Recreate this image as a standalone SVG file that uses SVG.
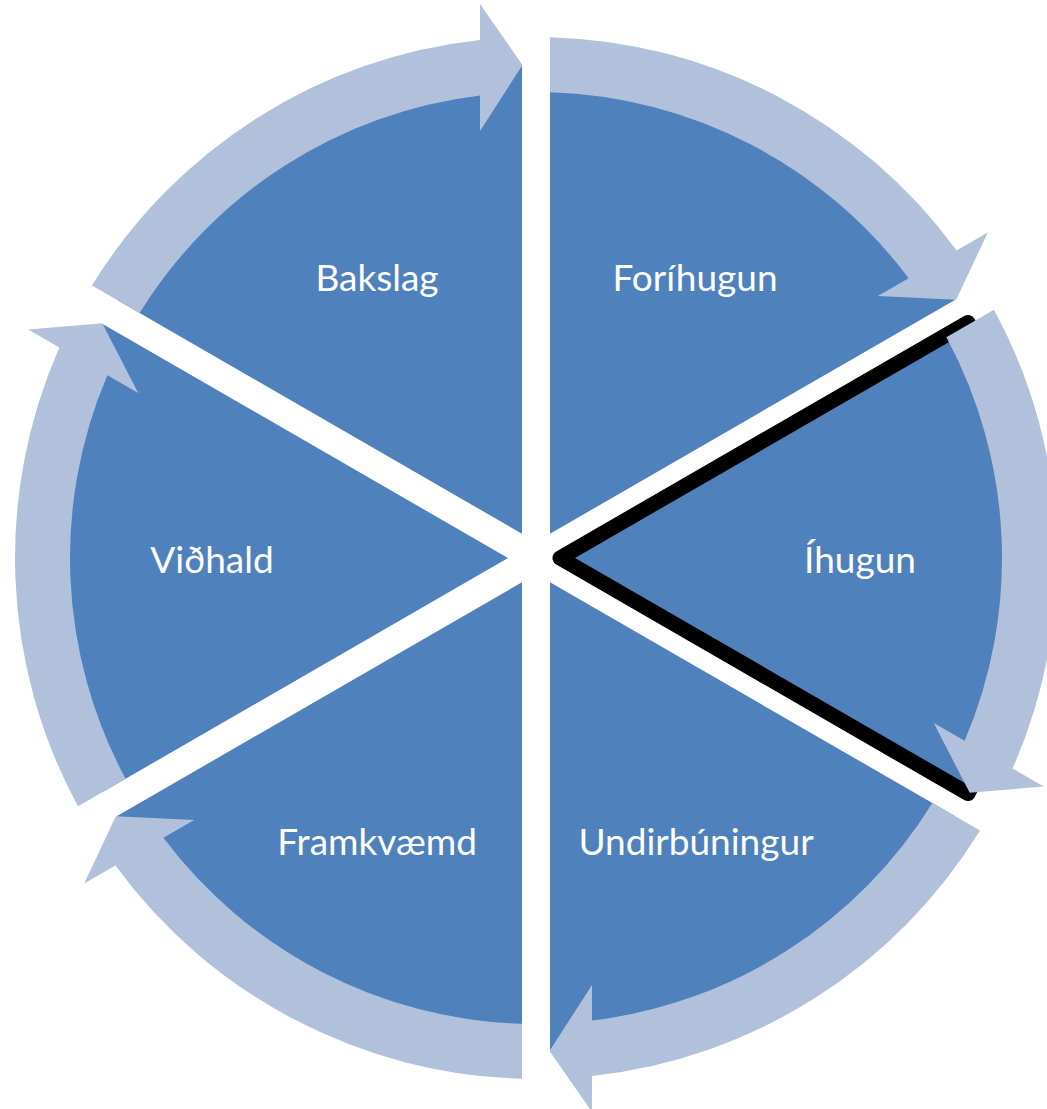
<svg xmlns="http://www.w3.org/2000/svg" width="1047" height="1109" viewBox="0 0 1047 1109">
  <style>
    .sector { fill: #4F81BD; }
    .hl { stroke: #000000; stroke-width: 15; stroke-linejoin: round; }
    .arrow { fill: #B2C1DB; }
    .label { fill: #FFFFFF; font-family: Lato, "Open Sans", "Liberation Sans", sans-serif; font-size: 37px; text-anchor: middle; }
  </style>
  <defs>
    <path id="sector" d="M 522 533.75 L 117.1 299.98 A 492 492 0 0 1 522 66.2 Z"/>
    <path id="cyc-arrow" d="M 91.97 285.47 A 521 521 0 0 1 480 40.02 L 480 4 L 522.5 65 L 480 131 L 480 95.38 A 466 466 0 0 0 139.62 312.98 Z"/>
  </defs>
  <rect width="1047" height="1109" fill="#FFFFFF"/>
  <g id="node-bakslag">
    <use href="#sector" class="sector"/>
    <text class="label" x="377" y="291">Bakslag</text>
  </g>
  <g id="node-forihugun">
    <use href="#sector" class="sector" transform="rotate(60 536 558)"/>
    <text class="label" x="695" y="291">Foríhugun</text>
  </g>
  <g id="node-ihugun">
    <path class="sector hl" d="M 560 558 L 967.95 322.46 A 492 492 0 0 1 967.95 793.54 Z"/>
    <text class="label" x="860" y="573">Íhugun</text>
  </g>
  <g id="node-undirbuningur">
    <use href="#sector" class="sector" transform="rotate(180 536 558)"/>
    <text class="label" x="696" y="855">Undirbúningur</text>
  </g>
  <g id="node-framkvaemd">
    <use href="#sector" class="sector" transform="rotate(240 536 558)"/>
    <text class="label" x="377" y="855">Framkvæmd</text>
  </g>
  <g id="node-vidhald">
    <use href="#sector" class="sector" transform="rotate(300 536 558)"/>
    <text class="label" x="212" y="573">Viðhald</text>
  </g>
  <g id="connectors">
    <use href="#cyc-arrow" class="arrow"/>
    <use href="#cyc-arrow" class="arrow" transform="rotate(60 536 558)"/>
    <use href="#cyc-arrow" class="arrow" transform="rotate(120 536 558)"/>
    <use href="#cyc-arrow" class="arrow" transform="rotate(180 536 558)"/>
    <use href="#cyc-arrow" class="arrow" transform="rotate(240 536 558)"/>
    <use href="#cyc-arrow" class="arrow" transform="rotate(300 536 558)"/>
  </g>
</svg>
